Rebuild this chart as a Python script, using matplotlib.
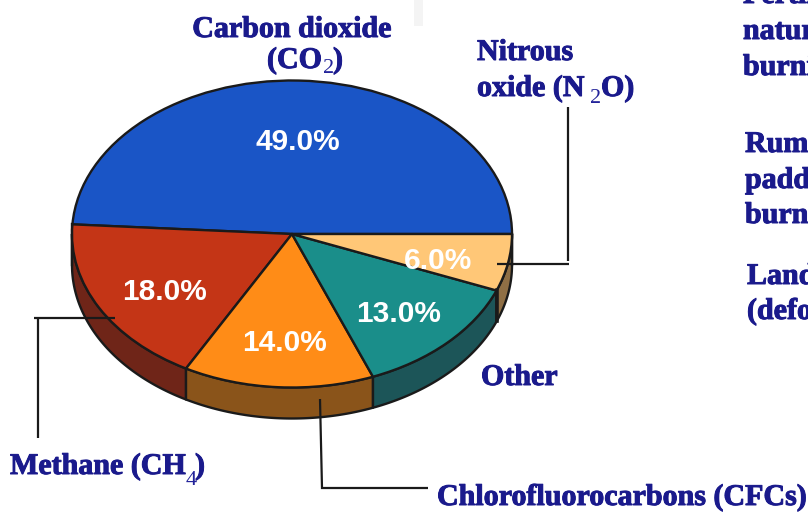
import numpy as np
import matplotlib
matplotlib.use("Agg")
import matplotlib.pyplot as plt
import matplotlib.patheffects as pe
from matplotlib.patches import Polygon, Rectangle

W, H = 808, 512
CX, CY, RX, RY, DEPTH = 292, 234, 220, 153.5, 31

gases = ["Carbon dioxide", "Methane", "Chlorofluorocarbons", "Other", "Nitrous oxide"]
shares = [49.0, 18.0, 14.0, 13.0, 6.0]
top_colors = ["#1a55c6", "#c43516", "#ff8c17", "#1a8e8a", "#ffc777"]
side_colors = ["#123a88", "#6f2518", "#8a541a", "#1c5558", "#8f6f45"]
label_px = [(298, 142), (164, 292), (284, 343), (399, 314), (438, 261)]

NAVY = "#1a1a8c"
EDGE = "#1a1a1a"
SERIF = "Liberation Serif"
SANS = "Liberation Sans"


def dx(px):
    return (px - CX) / RX


def dy(py):
    return (CY - py) / RY


def P(px, py):
    return dx(px), dy(py)


fig = plt.figure(figsize=(W / 100, H / 100), dpi=100)
ax = fig.add_axes([0, 0, 1, 1])

wedges, _ = ax.pie(shares, colors=top_colors, startangle=0, counterclock=True, radius=1,
                   normalize=True,
                   wedgeprops=dict(edgecolor=EDGE, linewidth=1.7, zorder=3, joinstyle="round"))
ax.set_aspect("auto")
ax.set_xlim(dx(0), dx(W))
ax.set_ylim(dy(H), dy(0))
ax.axis("off")

# extruded rim, derived from the shares
edges = np.concatenate([[0], np.cumsum(shares)]) / sum(shares) * 360
depth = DEPTH / RY
for a0, a1, col in zip(edges[:-1], edges[1:], side_colors):
    lo, hi = max(a0, 180), min(a1, 360)
    if hi <= lo:
        continue
    th = np.radians(np.linspace(lo, hi, 80))
    x, y = np.cos(th), np.sin(th)
    pts = np.r_[np.c_[x, y], np.c_[x[::-1], y[::-1] - depth]]
    ax.add_patch(Polygon(pts, closed=True, facecolor=col, edgecolor=EDGE, linewidth=1.7,
                         zorder=2, joinstyle="round"))

# left and right rim ends
ax.plot([dx(CX - RX)] * 2, [0.065, -depth], color=EDGE, lw=1.7, zorder=2.5)
ax.plot([dx(CX + RX)] * 2, [0, -depth], color=EDGE, lw=1.7, zorder=2.5)
ax.plot([dx(497)] * 2, [dy(290), dy(321)], color=EDGE, lw=2.6, zorder=4)

for v, (px, py) in zip(shares, label_px):
    ax.text(*P(px, py), f"{v:.1f}%", color="white", fontsize=21.5, fontweight="bold",
            family=SANS, ha="center", va="center", zorder=6)


def line(xs, ys):
    ax.plot([dx(v) for v in xs], [dy(v) for v in ys], color=EDGE, lw=1.6, zorder=7,
            solid_capstyle="butt", solid_joinstyle="miter")


line([34, 115], [318, 318])
line([38, 38], [318, 438])
line([320, 322, 428], [399, 488, 488])
line([568, 568], [107, 261])
line([497, 569], [264, 264])

ax.add_patch(Rectangle(P(414, 26), dx(423) - dx(414), dy(0) - dy(26), facecolor="#f4f4f4",
                       edgecolor="none", zorder=1))

heavy = [pe.withStroke(linewidth=0.7, foreground=NAVY)]


def bold(px, py, s, ha="left"):
    ax.text(*P(px, py), s, color=NAVY, fontsize=21.6, fontweight="bold", family=SERIF,
            ha=ha, va="baseline", zorder=8, path_effects=heavy)


def sub(px, py, s):
    ax.text(*P(px, py), s, color="#23239a", fontsize=16, family=SERIF, ha="left",
            va="baseline", zorder=9)


bold(292, 37, "Carbon dioxide", ha="center")
bold(267, 68, "(CO")
sub(323, 73, "2")
bold(333, 68, ")")

bold(477, 60, "Nitrous")
bold(477, 96, "oxide (N")
sub(590, 103, "2")
bold(601, 96, "O)")

bold(10, 474, "Methane (CH")
sub(186, 485, "4")
bold(195, 474, ")")

bold(437, 505, "Chlorofluorocarbons (CFCs)")
bold(481, 385, "Other")

bold(743, 3, "Fertil")
bold(743, 39, "natur")
bold(743, 75, "burni")
bold(745, 152, "Rum")
bold(745, 188, "padd")
bold(745, 223, "burn")
bold(747, 284, "Land")
bold(747, 319, "(defo")

fig.savefig("out.png", dpi=100, facecolor="white")
